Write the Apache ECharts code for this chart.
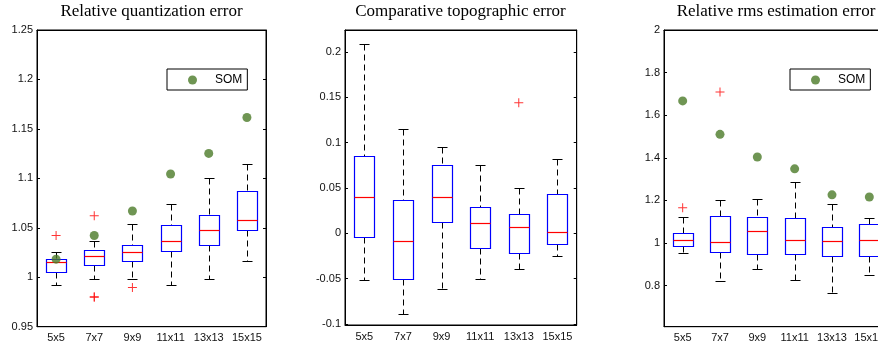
<!DOCTYPE html>
<html>
<head>
<meta charset="utf-8">
<script src="https://cdn.jsdelivr.net/npm/echarts@6/dist/echarts.min.js"></script>
<style>
html,body{margin:0;padding:0;background:#fff;}
#chart{width:878px;height:347px;}
</style>
</head>
<body>
<div id="chart"></div>
<script>
// ---- data ----
const categories = ['5x5', '7x7', '9x9', '11x11', '13x13', '15x15'];

// Panel 1: Relative quantization error
const qeMin = [0.9917, 0.9978, 0.9978, 0.9917, 0.9978, 1.0169];
const qeQ1  = [1.0058, 1.0126, 1.0169, 1.0267, 1.0331, 1.0482];
const qeMed = [1.0152, 1.0210, 1.0253, 1.0368, 1.0482, 1.0576];
const qeQ3  = [1.0186, 1.0274, 1.0327, 1.0529, 1.0630, 1.0869];
const qeMax = [1.0257, 1.0364, 1.0536, 1.0744, 1.1000, 1.1141];
const qeOutliers = [['5x5', 1.0422], ['7x7', 1.0623], ['7x7', 0.9803], ['7x7', 0.9797], ['9x9', 0.9897]];
const qeSom = [1.0183, 1.0422, 1.0670, 1.1044, 1.1252, 1.1615];

// Panel 2: Comparative topographic error
const teMin = [-0.0517, -0.0884, -0.0613, -0.0506, -0.0389, -0.0246];
const teQ1  = [-0.0040, -0.0499, 0.0128, -0.0158, -0.0220, -0.0117];
const teMed = [0.0404, -0.0081, 0.0404, 0.0114, 0.0073, 0.0015];
const teQ3  = [0.0855, 0.0370, 0.0748, 0.0293, 0.0216, 0.0429];
const teMax = [0.2091, 0.1152, 0.0946, 0.0748, 0.0495, 0.0814];
const teOutliers = [['13x13', 0.1438]];

// Panel 3: Relative rms estimation error
const rmsMin = [0.955, 0.821, 0.880, 0.824, 0.764, 0.849];
const rmsQ1  = [0.986, 0.956, 0.946, 0.946, 0.938, 0.941];
const rmsMed = [1.014, 1.003, 1.058, 1.014, 1.011, 1.014];
const rmsQ3  = [1.047, 1.126, 1.121, 1.117, 1.076, 1.089];
const rmsMax = [1.123, 1.202, 1.208, 1.285, 1.184, 1.117];
const rmsOutliers = [['5x5', 1.165], ['7x7', 1.709]];
const rmsSom = [1.667, 1.510, 1.404, 1.348, 1.226, 1.216];

// tick labels
const yTicks1 = [0.95, 1, 1.05, 1.1, 1.15, 1.2, 1.25];
const yTicks2 = [-0.1, -0.05, 0, 0.05, 0.1, 0.15, 0.2];
const yTicks3 = [0.8, 1, 1.2, 1.4, 1.6, 1.8, 2];

const titles = ['Relative quantization error', 'Comparative topographic error', 'Relative rms estimation error'];

// ---- build ----
function boxData(mn, q1, md, q3, mx) {
  return categories.map((c, i) => [i, mn[i], q1[i], md[i], q3[i], mx[i]]);
}

function renderBox(params, api) {
  const idx = api.value(0);
  const lo = api.coord([idx, api.value(1)]);
  const q1 = api.coord([idx, api.value(2)]);
  const md = api.coord([idx, api.value(3)]);
  const q3 = api.coord([idx, api.value(4)]);
  const hi = api.coord([idx, api.value(5)]);
  const cx = Math.round(lo[0]) + 0.5;
  const r = v => Math.round(v) + 0.5;
  const hw = 10, cw = 5;
  const dash = {stroke: '#000', lineWidth: 1, lineDash: [6, 4]};
  const solid = {stroke: '#000', lineWidth: 1};
  return {
    type: 'group',
    children: [
      {type: 'line', shape: {x1: cx, y1: r(hi[1]), x2: cx, y2: r(q3[1])}, style: dash},
      {type: 'line', shape: {x1: cx, y1: r(q1[1]), x2: cx, y2: r(lo[1])}, style: dash},
      {type: 'line', shape: {x1: cx - cw, y1: r(hi[1]), x2: cx + cw, y2: r(hi[1])}, style: solid},
      {type: 'line', shape: {x1: cx - cw, y1: r(lo[1]), x2: cx + cw, y2: r(lo[1])}, style: solid},
      {type: 'rect', shape: {x: cx - hw, y: r(q3[1]), width: 2 * hw, height: r(q1[1]) - r(q3[1])},
        style: {fill: '#fff', stroke: '#0000ff', lineWidth: 1.2}},
      {type: 'line', shape: {x1: cx - hw, y1: r(md[1]), x2: cx + hw, y2: r(md[1])}, style: {stroke: '#ff0000', lineWidth: 1.2}}
    ]
  };
}

const plusSymbol = 'path://M4,0h1v4h4v1h-4v4h-1v-4h-4v-1h4z';
const labelFont = {fontFamily: 'Liberation Sans', fontSize: 11, color: '#111'};

const gridFrame = {show: true, borderColor: '#000', borderWidth: 1, backgroundColor: 'transparent', outerBoundsMode: 'none'};
const grids = [
  Object.assign({left: 37, top: 30, width: 229, height: 296.7}, gridFrame),
  Object.assign({left: 345, top: 30, width: 231.7, height: 295}, gridFrame),
  Object.assign({left: 664, top: 30, width: 224, height: 296.7}, gridFrame)
];
const yRanges = [[0.95, 1.25], [-0.101, 0.224], [0.607, 2]];
const yTicks = [yTicks1, yTicks2, yTicks3];
const titleCenters = [151.5, 460.5, 776];

const xAxes = [], yAxes = [], series = [];
grids.forEach((g, i) => {
  xAxes.push({
    type: 'category', gridIndex: i, data: categories, position: 'bottom', boundaryGap: true,
    axisLine: {onZero: false, lineStyle: {color: '#000', width: 1}},
    axisTick: {alignWithLabel: true, inside: true, length: 3, lineStyle: {color: '#000'}},
    axisLabel: Object.assign({margin: 6, interval: 0}, labelFont),
    splitLine: {show: false}
  });
  xAxes.push({
    type: 'category', gridIndex: i, data: categories, position: 'top', boundaryGap: true,
    axisLine: {onZero: false, lineStyle: {color: '#000', width: 1}},
    axisTick: {alignWithLabel: true, inside: true, length: 3, lineStyle: {color: '#000'}},
    axisLabel: {show: false},
    splitLine: {show: false}
  });
  yAxes.push({
    type: 'value', gridIndex: i, position: 'left', min: yRanges[i][0], max: yRanges[i][1],
    axisLine: {show: true, onZero: false, lineStyle: {color: '#000', width: 1}},
    axisTick: {show: true, inside: true, length: 3, lineStyle: {color: '#000'}, customValues: yTicks[i]},
    axisLabel: Object.assign({margin: 4, customValues: yTicks[i]}, labelFont),
    splitLine: {show: false}
  });
  yAxes.push({
    type: 'value', gridIndex: i, position: 'right', min: yRanges[i][0], max: yRanges[i][1],
    axisLine: {show: true, onZero: false, lineStyle: {color: '#000', width: 1}},
    axisTick: {show: true, inside: true, length: 3, lineStyle: {color: '#000'}, customValues: yTicks[i]},
    axisLabel: {show: false},
    splitLine: {show: false}
  });
});

const boxSets = [
  boxData(qeMin, qeQ1, qeMed, qeQ3, qeMax),
  boxData(teMin, teQ1, teMed, teQ3, teMax),
  boxData(rmsMin, rmsQ1, rmsMed, rmsQ3, rmsMax)
];
const outlierSets = [qeOutliers, teOutliers, rmsOutliers];

boxSets.forEach((d, i) => {
  series.push({
    type: 'custom', name: 'box' + i, xAxisIndex: 2 * i, yAxisIndex: 2 * i,
    renderItem: renderBox, data: d, encode: {x: 0, y: [1, 2, 3, 4, 5]}, silent: true
  });
  series.push({
    type: 'scatter', name: 'outliers' + i, xAxisIndex: 2 * i, yAxisIndex: 2 * i,
    data: outlierSets[i], symbol: plusSymbol, symbolSize: 9,
    itemStyle: {color: '#ff0000'}, silent: true
  });
});
[[0, qeSom], [2, rmsSom]].forEach(([i, som]) => {
  series.push({
    type: 'scatter', name: 'SOM', xAxisIndex: 2 * i, yAxisIndex: 2 * i,
    data: categories.map((c, k) => [c, som[k]]), symbol: 'circle', symbolSize: 9,
    itemStyle: {color: '#4b7b28'}, silent: true, z: 5
  });
});

const legendBase = {
  top: 69, orient: 'horizontal', data: [{name: 'SOM', icon: 'circle'}],
  itemWidth: 9, itemHeight: 9, padding: [4, 5, 3, 21],
  borderColor: '#000', borderWidth: 1, backgroundColor: '#fff', borderRadius: 0,
  textStyle: {fontFamily: 'Liberation Sans', fontSize: 12, color: '#000', lineHeight: 14, padding: [0, 0, 0, 13]},
  selectedMode: false
};

const option = {
  animation: false,
  backgroundColor: '#fff',
  title: titles.map((t, i) => ({
    text: t, left: titleCenters[i], top: 3, textAlign: 'center', padding: 0,
    textStyle: {fontFamily: 'Liberation Serif', fontSize: 17, fontWeight: 'normal', color: '#000'}
  })),
  legend: [
    Object.assign({left: 167}, legendBase),
    Object.assign({left: 790}, legendBase)
  ],
  grid: grids,
  xAxis: xAxes,
  yAxis: yAxes,
  series: series
};

const chart = echarts.init(document.getElementById('chart'), null, {renderer: 'canvas'});
chart.setOption(option);
</script>
</body>
</html>
